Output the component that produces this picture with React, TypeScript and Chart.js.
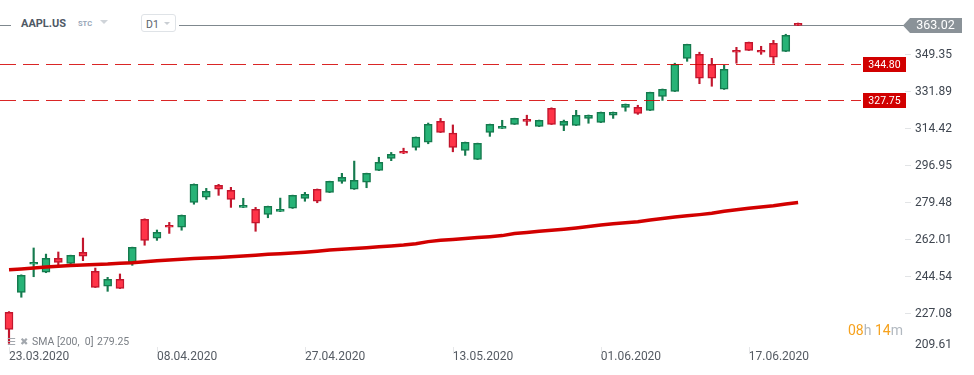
import React, { useEffect, useRef } from 'react';
import { Chart, registerables } from 'chart.js';

Chart.register(...registerables);

// ---- data ----
const opens = [227.3, 236.7, 250.0, 246.2, 252.8, 250.4, 255.6, 246.7, 239.6, 242.9, 250.9, 271.3, 262.3, 268.4, 267.5, 279.3, 281.7, 287.3, 285.0, 276.9, 276.0, 273.6, 275.0, 276.5, 281.2, 285.5, 284.0, 289.2, 285.5, 288.8, 294.4, 300.1, 303.4, 305.3, 307.7, 317.6, 312.0, 303.9, 299.6, 312.4, 314.3, 316.2, 318.6, 315.2, 323.8, 315.7, 315.7, 319.0, 317.1, 320.5, 324.2, 324.2, 322.8, 329.4, 331.8, 347.4, 349.3, 344.6, 332.8, 351.2, 355.0, 351.2, 354.5, 350.7, 364.0];
const highs = [227.6, 245.0, 257.7, 254.8, 255.8, 254.3, 262.4, 248.2, 243.8, 245.4, 258.1, 271.5, 266.2, 269.8, 273.3, 288.0, 285.9, 287.8, 286.4, 281.2, 276.9, 277.5, 281.3, 282.7, 284.0, 285.6, 289.3, 293.0, 298.8, 293.1, 300.6, 302.9, 304.9, 310.2, 316.8, 319.0, 315.9, 307.8, 307.3, 316.3, 318.1, 319.1, 320.5, 318.2, 324.0, 318.2, 322.8, 320.6, 322.0, 322.0, 325.8, 325.2, 331.4, 332.9, 345.1, 354.1, 350.3, 347.4, 344.1, 352.6, 355.1, 353.1, 355.9, 358.8, 364.1];
const lows = [212.6, 234.4, 244.1, 246.0, 248.8, 249.2, 251.7, 239.0, 237.2, 238.5, 249.5, 259.0, 261.3, 264.6, 266.1, 278.4, 280.7, 282.6, 276.9, 276.8, 265.6, 272.0, 274.9, 276.4, 279.8, 279.1, 283.9, 288.3, 285.4, 286.2, 294.3, 299.0, 302.3, 304.0, 307.0, 312.3, 303.2, 301.5, 299.5, 310.5, 314.2, 316.1, 315.7, 315.1, 316.1, 313.2, 315.6, 316.7, 317.0, 319.0, 322.4, 320.9, 322.7, 327.5, 331.7, 346.0, 335.4, 334.2, 332.7, 345.1, 351.1, 349.3, 345.1, 350.6, 362.9];
const closes = [219.2, 244.8, 250.9, 252.8, 250.9, 254.2, 253.8, 239.1, 242.9, 238.6, 258.0, 261.3, 265.1, 267.5, 273.2, 287.8, 284.5, 285.5, 280.7, 277.9, 269.4, 277.4, 276.0, 282.6, 283.1, 279.8, 289.2, 291.1, 289.7, 293.0, 298.2, 302.0, 302.5, 310.1, 316.2, 312.4, 305.3, 307.7, 307.2, 316.2, 315.2, 319.0, 317.6, 318.1, 316.2, 317.6, 320.5, 320.5, 321.9, 321.9, 325.7, 321.4, 331.3, 332.8, 344.6, 354.0, 338.0, 338.0, 342.2, 350.3, 351.2, 350.3, 347.9, 358.3, 363.02];
const sma200 = [247.42, 247.80, 248.22, 248.65, 249.08, 249.41, 249.69, 249.93, 250.12, 250.45, 250.73, 251.16, 251.63, 252.06, 252.39, 252.67, 252.96, 253.24, 253.52, 253.90, 254.28, 254.71, 254.99, 255.32, 255.70, 256.17, 256.74, 257.07, 257.45, 257.83, 258.25, 258.68, 259.10, 259.67, 260.71, 261.33, 261.75, 262.23, 262.61, 263.03, 263.55, 264.54, 265.02, 265.59, 266.06, 266.58, 267.15, 267.81, 268.57, 269.13, 269.61, 270.08, 270.93, 271.59, 272.35, 272.92, 273.48, 274.10, 275.05, 275.76, 276.51, 277.08, 277.69, 278.50, 279.25];
const yTickValues = [209.61, 227.08, 244.54, 262.01, 279.48, 296.95, 314.42, 331.89, 349.35];
const dateTickIndex = [0, 12, 24, 36, 48, 60];
const dateTickLabels = ['23.03.2020', '08.04.2020', '27.04.2020', '13.05.2020', '01.06.2020', '17.06.2020'];
const currentPrice = 363.02;
const levelLines = [344.8, 327.75];
const smaLegendLabel = 'SMA';
const smaLegendParams = '[200,  0]';
const smaLegendValue = '279.25';
const symbolName = 'AAPL.US';
const symbolType = 'STC';
const timeframe = 'D1';
const timerHours = '08';
const timerMinutes = '14';

const GREEN = '#27b377';
const GREEN_B = '#157a4e';
const RED = '#ff3448';
const RED_B = '#c2162d';
const FONT = 'Roboto, "Noto Sans", sans-serif';

const overlayPlugin = {
  id: 'overlayPlugin',
  beforeDatasetsDraw(chart: any) {
    const { ctx } = chart;
    const y = chart.scales.y;
    const py = Math.round(y.getPixelForValue(currentPrice)) + 0.5;
    ctx.save();
    ctx.strokeStyle = '#7f888e';
    ctx.lineWidth = 1;
    ctx.beginPath();
    ctx.moveTo(0, py);
    ctx.lineTo(904, py);
    ctx.stroke();
    ctx.restore();
  },
  afterDatasetsDraw(chart: any) {
    const { ctx } = chart;
    const y = chart.scales.y;
    ctx.save();
    levelLines.forEach((lv) => {
      const py = Math.round(y.getPixelForValue(lv)) + 0.5;
      ctx.strokeStyle = 'rgba(212,0,0,0.85)';
      ctx.lineWidth = 1;
      ctx.setLineDash([16, 7]);
      ctx.beginPath();
      ctx.moveTo(0, py);
      ctx.lineTo(861, py);
      ctx.stroke();
      ctx.setLineDash([]);
      ctx.fillStyle = '#d10000';
      ctx.fillRect(863, py - 7.5, 43, 15);
      ctx.fillStyle = '#ffffff';
      ctx.font = `10.5px ${FONT}`;
      ctx.textAlign = 'center';
      ctx.textBaseline = 'middle';
      ctx.fillText(lv.toFixed(2), 884.5, py + 0.5);
    });
    ctx.restore();
  },
  afterDraw(chart: any) {
    const { ctx, chartArea } = chart;
    const y = chart.scales.y;
    const x = chart.scales.x;
    ctx.save();
    // y labels
    ctx.font = `12px ${FONT}`;
    ctx.textAlign = 'left';
    ctx.textBaseline = 'middle';
    y.ticks.forEach((t: any) => {
      const py = y.getPixelForValue(t.value);
      const limit = chartArea.bottom - 6;
      const clamped = py > limit;
      const ly = clamped ? limit : py;
      if (!clamped) {
        ctx.strokeStyle = '#e2e4e6';
        ctx.lineWidth = 1;
        ctx.beginPath();
        ctx.moveTo(905, Math.round(py) + 0.5);
        ctx.lineTo(911, Math.round(py) + 0.5);
        ctx.stroke();
      }
      ctx.fillStyle = '#3f4650';
      ctx.fillText(y.getLabelForValue ? t.value.toFixed(2) : String(t.value), 915, ly + 1);
    });
    // x tick marks
    ctx.strokeStyle = '#e6e7e9';
    ctx.lineWidth = 1;
    x.ticks.forEach((t: any) => {
      const px = Math.round(x.getPixelForValue(t.value)) + 0.5;
      ctx.beginPath();
      ctx.moveTo(px, 347);
      ctx.lineTo(px, 354);
      ctx.stroke();
    });
    // current price tag
    const py = Math.round(y.getPixelForValue(currentPrice)) + 0.5;
    ctx.fillStyle = '#8a9298';
    ctx.beginPath();
    ctx.moveTo(903, py);
    ctx.lineTo(910, py - 7.5);
    ctx.lineTo(962, py - 7.5);
    ctx.lineTo(962, py + 7.5);
    ctx.lineTo(910, py + 7.5);
    ctx.closePath();
    ctx.fill();
    ctx.fillStyle = '#ffffff';
    ctx.font = `12.5px ${FONT}`;
    ctx.textAlign = 'center';
    ctx.textBaseline = 'middle';
    ctx.fillText(currentPrice.toFixed(2), 935.5, py + 0.5);
    ctx.restore();
  },
};

export default function App() {
  const canvasRef = useRef<HTMLCanvasElement | null>(null);

  useEffect(() => {
    const canvas = canvasRef.current;
    if (!canvas) return;
    const idx = closes.map((_, i) => i);
    const up = closes.map((c, i) => c >= opens[i]);
    const chart = new Chart(canvas, {
      type: 'bar',
      data: {
        datasets: [
          {
            type: 'line',
            data: idx.map((i) => ({ x: i, y: sma200[i] })),
            borderColor: '#d20000',
            borderWidth: 3.5,
            pointRadius: 0,
            tension: 0,
            order: 1,
          } as any,
          {
            type: 'bar',
            data: idx.map((i) => ({ x: i, y: [opens[i], closes[i]] })),
            backgroundColor: up.map((u) => (u ? GREEN : RED)),
            borderColor: up.map((u) => (u ? GREEN_B : RED_B)),
            borderWidth: 1.5,
            borderSkipped: false,
            barThickness: 8,
            grouped: false,
            order: 2,
          } as any,
          {
            type: 'bar',
            data: idx.map((i) => ({ x: i, y: [lows[i], highs[i]] })),
            backgroundColor: up.map((u) => (u ? GREEN_B : RED_B)),
            borderWidth: 0,
            barThickness: 1.5,
            grouped: false,
            order: 3,
          } as any,
        ],
      },
      options: {
        responsive: false,
        animation: false,
        devicePixelRatio: 1,
        events: [],
        layout: { padding: 0 },
        plugins: { legend: { display: false }, tooltip: { enabled: false } },
        scales: {
          x: {
            type: 'linear',
            min: -0.73,
            max: 72.67,
            offset: false,
            grid: { display: false, drawTicks: false, offset: false },
            border: { display: false },
            afterBuildTicks: (s: any) => {
              s.ticks = dateTickIndex.map((v) => ({ value: v }));
            },
            afterFit: (s: any) => {
              s.height = 25;
            },
            ticks: {
              align: 'start',
              padding: 0,
              maxRotation: 0,
              autoSkip: false,
              color: '#555b63',
              font: { family: FONT, size: 12 },
              callback: (v: any) => {
                const k = dateTickIndex.indexOf(Number(v));
                return k >= 0 ? dateTickLabels[k] : '';
              },
            },
          },
          y: {
            type: 'linear',
            position: 'right',
            min: 209.44,
            max: 375.0,
            grid: { display: false, drawTicks: false },
            border: { display: false },
            ticks: { display: false },
            afterBuildTicks: (s: any) => {
              s.ticks = yTickValues.map((v) => ({ value: v }));
            },
            afterFit: (s: any) => {
              s.width = 69;
            },
          },
        },
      } as any,
      plugins: [overlayPlugin],
    });
    return () => chart.destroy();
  }, []);

  const abs = (o: any) => ({ position: 'absolute', lineHeight: 1, whiteSpace: 'pre', fontFamily: FONT, ...o } as any);

  return (
    <div style={{ position: 'fixed', left: 0, top: 0, width: 974, height: 375, background: '#fff', overflow: 'hidden' }}>
      <canvas ref={canvasRef} width={974} height={375} style={{ position: 'absolute', left: 0, top: 0, width: 974, height: 375 }} />
      {/* header */}
      <div style={{ position: 'absolute', left: 11, top: 12, width: 168, height: 22, background: '#fff' }} />
      <div style={abs({ left: 21, top: 18.3, fontSize: 11, fontWeight: 700, color: '#4f5965' })}>{symbolName}</div>
      <div style={abs({ left: 78, top: 20.4, fontSize: 7.5, fontWeight: 700, color: '#97a6b8' })}>{symbolType}</div>
      <div style={{ position: 'absolute', left: 100, top: 20, width: 0, height: 0, borderLeft: '4px solid transparent', borderRight: '4px solid transparent', borderTop: '4px solid #cfd4d9' }} />
      <div style={{ position: 'absolute', left: 141, top: 14, width: 35, height: 18, boxSizing: 'border-box', border: '1px solid #dfe3e7', borderRadius: 3, background: '#fff' }} />
      <div style={abs({ left: 146, top: 19.5, fontSize: 10.5, color: '#5a626c' })}>{timeframe}</div>
      <div style={{ position: 'absolute', left: 164, top: 22, width: 0, height: 0, borderLeft: '3.5px solid transparent', borderRight: '3.5px solid transparent', borderTop: '3.5px solid #c9ced3' }} />
      {/* SMA legend */}
      <div style={abs({ left: 7, top: 336.5, fontSize: 10, color: '#a3a8ae', fontFamily: '"DejaVu Sans", sans-serif' })}>{'☰'}</div>
      <div style={abs({ left: 20, top: 336.5, fontSize: 10, color: '#a3a8ae', fontFamily: '"DejaVu Sans", sans-serif' })}>{'✖'}</div>
      <div style={abs({ left: 32, top: 337, fontSize: 10.5, color: '#7a7f85' })}>{smaLegendLabel}</div>
      <div style={abs({ left: 57, top: 337, fontSize: 10.5, color: '#7a7f85' })}>{smaLegendParams}</div>
      <div style={abs({ left: 97, top: 337, fontSize: 10.5, color: '#7a7f85' })}>{smaLegendValue}</div>
      {/* timer */}
      <div style={abs({ left: 848, top: 323, fontSize: 14, color: '#b2b9c0' })}>
        <span style={{ color: '#f6a21e' }}>{timerHours}</span>h <span style={{ color: '#f6a21e' }}>{timerMinutes}</span>m
      </div>
    </div>
  );
}
